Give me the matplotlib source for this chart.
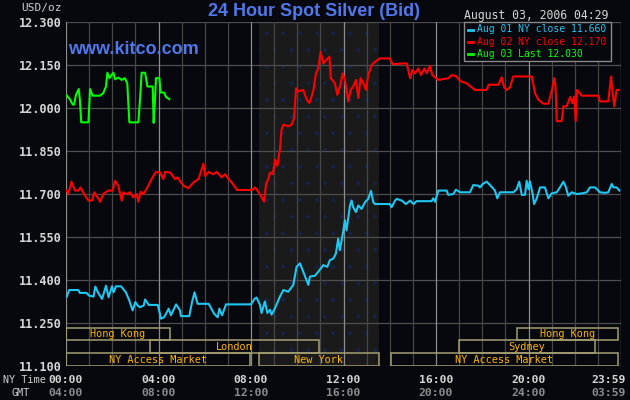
import matplotlib
matplotlib.use('Agg')
import matplotlib.pyplot as plt
from matplotlib.patches import Rectangle

# ---------------------------------------------------------------- 데이터 (시각 h, 가격 USD/oz)
aug01_h = [0.03, 0.14, 0.53, 0.60, 0.89, 0.99, 1.19, 1.27, 1.38, 1.56, 1.73, 1.84, 1.99, 2.06, 2.16,
           2.38, 2.59, 2.74, 2.88, 3.00, 3.10, 3.20, 3.36, 3.42, 3.58, 3.97, 4.11, 4.25, 4.44, 4.54,
           4.76, 4.93, 4.97, 5.33, 5.45, 5.56, 5.69, 6.17, 6.41, 6.56, 6.63, 6.75, 6.92, 7.07, 8.00,
           8.15, 8.24, 8.39, 8.46, 8.60, 8.71, 8.82, 8.89, 9.04, 9.25, 9.40, 9.61, 9.83, 9.97, 10.12,
           10.26, 10.48, 10.55, 10.77, 10.91, 11.13, 11.30, 11.41, 11.56, 11.67, 11.77, 11.84, 11.96,
           12.06, 12.13, 12.28, 12.35, 12.42, 12.54, 12.64, 12.78, 12.93, 13.07, 13.19, 13.29, 13.36,
           14.00, 14.08, 14.23, 14.30, 14.52, 14.70, 14.88, 15.03, 15.16, 15.81, 15.88, 15.96, 16.10,
           16.24, 16.46, 16.53, 16.75, 16.86, 17.04, 17.47, 17.61, 17.83, 17.90, 18.02, 18.19, 18.34,
           18.55, 18.65, 18.77, 19.35, 19.49, 19.60, 19.71, 19.85, 19.92, 20.00, 20.06, 20.18, 20.24,
           20.35, 20.50, 20.71, 20.86, 21.00, 21.22, 21.36, 21.51, 21.62, 21.72, 21.87, 22.08, 22.30,
           22.52, 22.66, 22.88, 23.09, 23.31, 23.45, 23.60, 23.67, 23.81, 23.93]
aug01_p = [11.342, 11.365, 11.365, 11.355, 11.355, 11.346, 11.342, 11.377, 11.357, 11.334, 11.380,
           11.340, 11.378, 11.357, 11.378, 11.378, 11.357, 11.328, 11.294, 11.323, 11.311, 11.305,
           11.311, 11.332, 11.313, 11.313, 11.265, 11.271, 11.300, 11.277, 11.315, 11.294, 11.274,
           11.274, 11.323, 11.357, 11.317, 11.317, 11.282, 11.270, 11.300, 11.277, 11.315, 11.315,
           11.315, 11.334, 11.339, 11.313, 11.285, 11.325, 11.285, 11.296, 11.279, 11.302, 11.342,
           11.365, 11.359, 11.383, 11.446, 11.458, 11.429, 11.383, 11.412, 11.415, 11.429, 11.452,
           11.446, 11.469, 11.475, 11.492, 11.544, 11.504, 11.556, 11.608, 11.573, 11.660, 11.677,
           11.654, 11.637, 11.660, 11.648, 11.671, 11.683, 11.711, 11.671, 11.665, 11.665, 11.654,
           11.677, 11.683, 11.677, 11.665, 11.677, 11.665, 11.675, 11.675, 11.685, 11.673, 11.712,
           11.712, 11.712, 11.697, 11.700, 11.715, 11.706, 11.706, 11.731, 11.729, 11.723, 11.735,
           11.743, 11.731, 11.712, 11.685, 11.706, 11.706, 11.717, 11.743, 11.697, 11.697, 11.746,
           11.717, 11.744, 11.700, 11.665, 11.683, 11.723, 11.723, 11.685, 11.702, 11.706, 11.723,
           11.743, 11.723, 11.694, 11.706, 11.700, 11.702, 11.706, 11.723, 11.723, 11.706, 11.704,
           11.706, 11.735, 11.723, 11.723, 11.712]

aug02_h = [0.03, 0.10, 0.24, 0.39, 0.53, 0.63, 0.78, 0.97, 1.12, 1.23, 1.36, 1.48, 1.61, 1.83, 2.02,
           2.12, 2.26, 2.41, 2.48, 2.62, 2.77, 2.91, 3.06, 3.13, 3.23, 3.35, 3.52, 3.70, 3.89, 4.07,
           4.21, 4.28, 4.50, 4.72, 4.82, 5.08, 5.29, 5.51, 5.73, 5.87, 5.94, 6.01, 6.16, 6.37, 6.52,
           6.73, 6.88, 7.03, 7.17, 7.32, 7.39, 8.04, 8.18, 8.33, 8.47, 8.57, 8.65, 8.75, 8.82, 8.94,
           9.04, 9.14, 9.25, 9.32, 9.40, 9.61, 9.76, 9.86, 9.95, 10.05, 10.26, 10.41, 10.52, 10.62,
           10.70, 10.81, 10.91, 11.01, 11.13, 11.24, 11.39, 11.45, 11.63, 11.73, 11.85, 11.96, 12.06,
           12.21, 12.31, 12.42, 12.54, 12.64, 12.74, 12.86, 12.97, 13.07, 13.22, 13.36, 13.58, 14.00,
           14.12, 14.73, 14.88, 14.98, 15.09, 15.24, 15.35, 15.50, 15.60, 15.74, 15.84, 16.10, 16.54,
           16.68, 16.89, 17.00, 17.11, 17.33, 17.68, 18.19, 18.27, 18.69, 18.84, 18.95, 19.05, 19.20,
           19.34, 20.14, 20.28, 20.43, 20.64, 20.86, 21.03, 21.12, 21.17, 21.22, 21.43, 21.51, 21.65,
           21.80, 21.90, 21.98, 22.04, 22.10, 22.30, 23.02, 23.09, 23.45, 23.57, 23.63, 23.71, 23.81,
           23.91]
aug02_p = [11.712, 11.700, 11.743, 11.712, 11.712, 11.723, 11.700, 11.677, 11.677, 11.706, 11.688,
           11.673, 11.700, 11.712, 11.712, 11.746, 11.729, 11.677, 11.706, 11.700, 11.706, 11.688,
           11.700, 11.673, 11.708, 11.700, 11.723, 11.752, 11.777, 11.775, 11.752, 11.777, 11.775,
           11.752, 11.758, 11.729, 11.720, 11.740, 11.752, 11.787, 11.806, 11.763, 11.777, 11.769,
           11.777, 11.758, 11.769, 11.752, 11.740, 11.723, 11.714, 11.714, 11.723, 11.706, 11.688,
           11.673, 11.735, 11.752, 11.775, 11.769, 11.821, 11.798, 11.856, 11.925, 11.942, 11.936,
           11.942, 11.965, 12.069, 12.058, 12.063, 12.029, 12.017, 12.040, 12.063, 12.121, 12.138,
           12.196, 12.155, 12.167, 12.179, 12.104, 12.086, 12.046, 12.075, 12.121, 12.098, 12.023,
           12.063, 12.075, 12.098, 12.035, 12.104, 12.086, 12.063, 12.115, 12.150, 12.161, 12.173,
           12.173, 12.153, 12.156, 12.104, 12.133, 12.121, 12.138, 12.115, 12.138, 12.121, 12.147,
           12.115, 12.098, 12.104, 12.115, 12.110, 12.098, 12.092, 12.086, 12.063, 12.063, 12.081,
           12.081, 12.107, 12.072, 12.063, 12.072, 12.110, 12.110, 12.052, 12.029, 12.015, 12.015,
           12.069, 12.104, 12.075, 11.954, 11.954, 12.006, 12.006, 12.038, 12.017, 12.040, 11.954,
           12.063, 12.043, 12.043, 12.023, 12.023, 12.110, 12.058, 12.006, 12.063, 12.063]

aug03_h = [0.03, 0.18, 0.29, 0.35, 0.43, 0.55, 0.60, 0.66, 0.97, 1.04, 1.15, 1.47, 1.61, 1.73, 1.79,
           1.88, 1.97, 2.05, 2.12, 2.26, 2.41, 2.55, 2.65, 2.74, 3.13, 3.20, 3.27, 3.42, 3.52, 3.75,
           3.79, 3.85, 3.89, 4.04, 4.09, 4.24, 4.33, 4.47]
aug03_p = [12.044, 12.029, 12.012, 12.012, 12.046, 12.066, 12.029, 11.950, 11.950, 12.066, 12.043,
           12.043, 12.052, 12.075, 12.123, 12.104, 12.115, 12.123, 12.100, 12.106, 12.098, 12.104,
           12.086, 11.950, 11.950, 12.029, 12.123, 12.123, 12.075, 12.075, 11.948, 12.029, 12.104,
           12.104, 12.054, 12.054, 12.038, 12.031]

legend_labels = ['Aug 01 NY close 11.660', 'Aug 02 NY close 12.170', 'Aug 03 Last 12.030']
y_ticks = [11.100, 11.250, 11.400, 11.550, 11.700, 11.850, 12.000, 12.150, 12.300]
x_ticks = [0, 4, 8, 12, 16, 20, 23.45]
ny_labels = ['00:00', '04:00', '08:00', '12:00', '16:00', '20:00', '23:59']
gmt_labels = ['04:00', '08:00', '12:00', '16:00', '20:00', '24:00', '03:59']

# 세션 (이름, 시작h, 끝h, 행: 0=아래)
sessions = [('Hong Kong', 0.0, 4.5, 2), ('London', 3.63, 10.95, 1), ('NY Access Market', 0.0, 7.96, 0),
            ('New York', 8.33, 13.52, 0), ('NY Access Market', 14.05, 23.87, 0),
            ('Sydney', 17.0, 22.88, 1), ('Hong Kong', 19.5, 23.87, 2)]
ny_session = (8.33, 13.52)

BG = '#06080e'
BLUE, RED, GREEN = '#1ec8f2', '#ff0000', '#00ff00'
TITLE_C = '#5078ea'
MONO = 'DejaVu Sans Mono'

fig = plt.figure(figsize=(6.3, 4.0), dpi=100, facecolor=BG)
ax = fig.add_axes([66 / 630, 1 - 366 / 400, 555 / 630, 344 / 400])
ax.set_facecolor(BG)
ax.set_xlim(0, 24)
ax.set_ylim(11.1, 12.3)
for s in ax.spines.values():
    s.set_visible(False)
ax.set_xticks([])
ax.set_yticks(y_ticks)
ax.set_yticklabels(['%.3f' % v for v in y_ticks], family=MONO, fontsize=8.6,
                   fontweight='bold', color='#d6d6d6')
ax.tick_params(axis='y', length=0, pad=3)

# 뉴욕 세션 음영
plt.rcParams['hatch.linewidth'] = 0.4
ax.axvspan(*ny_session, facecolor='#191a19', edgecolor='#18224a', hatch='.', lw=0, zorder=0)

# 격자
for v in y_ticks:
    ax.axhline(v, color='#4e4e4e', lw=0.9, zorder=1)
for h in range(0, 25):
    ax.axvline(h, color='#8c8c8c' if h % 4 == 0 else '#464646', lw=0.9, zorder=1)

# 가격선
ax.plot(aug01_h, aug01_p, color=BLUE, lw=1.5, zorder=3)
ax.plot(aug02_h, aug02_p, color=RED, lw=1.5, zorder=3)
ax.plot(aug03_h, aug03_p, color=GREEN, lw=1.5, zorder=3)

# 세션 박스
row_h = 0.0437
for name, h0, h1, row in sessions:
    y0 = 11.1 + row * 0.0453
    ax.add_patch(Rectangle((h0, y0), h1 - h0, row_h, fill=False, edgecolor='#a59f72', lw=1.1, zorder=4))
    ax.text((h0 + h1) / 2, y0 + row_h / 2, name, ha='center', va='center', family=MONO,
            fontsize=7.4, color='#ffb400', zorder=5)

# 범례 박스
fig.patches.append(Rectangle((464 / 630, 1 - 61 / 400), 147 / 630, 39 / 400, transform=fig.transFigure,
                             facecolor=BG, edgecolor='#8a8a8a', lw=1, zorder=6))
for i, (lab, c) in enumerate(zip(legend_labels, [BLUE, RED, GREEN])):
    yy = 1 - (29.5 + i * 12.3) / 400
    fig.lines.append(plt.Line2D([468 / 630, 473 / 630], [yy, yy], color=c, lw=2,
                                transform=fig.transFigure, zorder=7))
    fig.text(477 / 630, yy, lab, ha='left', va='center', family=MONO, fontsize=7.0, color=c, zorder=7)

# 상단 텍스트
fig.text(314 / 630, 1 - 12 / 400, '24 Hour Spot Silver (Bid)', ha='center', va='center',
         family='Liberation Sans', fontweight='bold', fontsize=13, color=TITLE_C)
fig.text(68 / 630, 1 - 49 / 400, 'www.kitco.com', ha='left', va='center',
         family='Liberation Sans', fontweight='bold', fontsize=13, color=TITLE_C)
fig.text(62 / 630, 1 - 8 / 400, 'USD/oz', ha='right', va='center', family=MONO, fontsize=8,
         color='#d0d0d0')
fig.text(608 / 630, 1 - 15 / 400, 'August 03, 2006 04:29', ha='right', va='center', family=MONO,
         fontsize=8.3, color='#d6d6d6')

# 하단 시간축
xt = ax.get_xaxis_transform()
for h, a, b in zip(x_ticks, ny_labels, gmt_labels):
    ax.text(h, -14 / 344, a, transform=xt, ha='center', va='center', family=MONO, fontsize=8.2,
            fontweight='bold', color='#d6d6d6')
    ax.text(h, -27 / 344, b, transform=xt, ha='center', va='center', family=MONO, fontsize=8.2,
            fontweight='bold', color='#8c8c8c')
fig.text(3 / 630, 1 - 380 / 400, 'NY Time', ha='left', va='center', family=MONO, fontsize=7.3,
         color='#d0d0d0')
fig.text(21 / 630, 1 - 393 / 400, 'GMT', ha='center', va='center', family=MONO, fontsize=7.3,
         color='#d0d0d0')

fig.savefig('out.png', dpi=100, facecolor=BG)
